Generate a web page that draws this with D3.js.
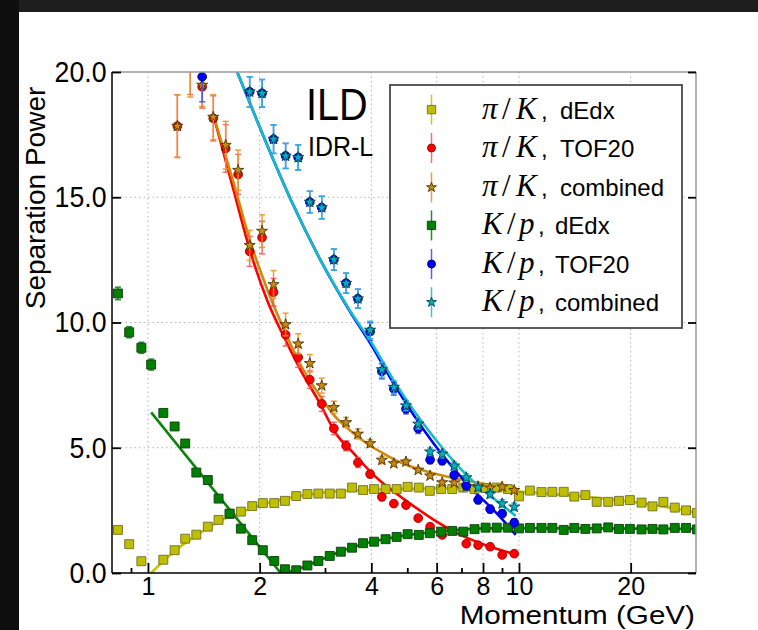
<!DOCTYPE html>
<html><head><meta charset="utf-8">
<script src="https://cdn.jsdelivr.net/npm/d3@7"></script>
<style>body{margin:0;background:#fff} svg{display:block}</style>
</head><body>
<svg id="c" width="758" height="630"></svg>
<script>
// ---------------- DATA ----------------
const pDedx = [0.83,0.89,0.96,1.02,1.10,1.18,1.26,1.35,1.45,1.55,1.66,1.78,1.91,2.04,2.19,2.34,2.51,2.69,2.88,3.09,3.31,3.55,3.80,4.07,4.37,4.68,5.01,5.37,5.75,6.17,6.61,7.08,7.59,8.13,8.71,9.33,10.0,10.7,11.5,12.3,13.2,14.1,15.1,16.2,17.4,18.6,19.9,21.4,22.9,24.5,26.3,28.2,30.2];
const piK_dEdx = [1.72,1.15,0.47,null,0.53,0.91,1.37,1.53,1.85,2.12,2.36,2.45,2.67,2.79,2.79,2.88,3.07,3.15,3.17,3.17,3.17,3.41,3.31,3.35,3.35,3.35,3.44,3.41,3.28,3.35,3.35,3.41,3.35,3.39,3.41,3.35,3.06,3.29,3.23,3.24,3.24,3.05,3.11,2.84,2.84,2.88,2.91,2.81,2.66,2.84,2.61,2.50,2.40];
const Kp_dEdx = [11.16,9.61,8.99,8.32,6.39,5.85,5.17,4.01,3.71,2.97,2.37,1.77,1.31,0.91,0.48,0.15,0.11,0.30,0.48,0.68,0.85,1.01,1.19,1.25,1.35,1.44,1.55,1.52,1.59,1.65,1.68,1.65,1.75,1.81,1.81,1.81,1.78,1.80,1.80,1.80,1.72,1.80,1.76,1.78,1.82,1.76,1.76,1.74,1.76,1.74,1.80,1.80,1.74];
const Kp_dEdxErr = [0.25,0.22,0.22,0.22];

const pTof = [1.20,1.30,1.40,1.50,1.62,1.75,1.88,2.03,2.18,2.35,2.54,2.73,2.94,3.17,3.42,3.68,3.97,4.27,4.60,4.96,5.35,5.76,6.21,6.69,7.21,7.76,8.36,9.01,9.71];
const piK_tof = [17.84,20.7,19.41,18.15,16.95,15.91,12.84,13.39,11.21,9.51,8.61,7.72,6.75,5.77,5.08,4.41,3.95,3.04,2.77,2.71,2.19,1.85,1.52,null,1.17,1.11,1.05,0.72,0.77];
const piK_tofErr = [1.25,1.6,0.85,0.9,0.95,0.8,0.6,0.65,0.55,0.45,0.4,0.35,0.3,0.25,0.2,0.2,0.15,0.15,0.1,0.1,0.1,0.1,0.1,0.1,0.1,0.1,0.1,0.1,0.1];
const piK_comb = [17.84,20.6,19.48,18.2,17.08,16.08,13.08,13.65,11.52,9.92,9.15,8.37,7.48,6.61,6.01,5.55,5.17,4.51,4.37,4.44,4.11,3.88,3.61,3.60,3.45,3.45,3.40,3.44,3.30];
const piK_combErr = [1.25,1.6,0.85,0.9,0.95,0.8,0.6,0.65,0.55,0.45,0.4,0.35,0.3,0.25,0.2,0.2,0.15,0.15,0.1,0.1,0.1,0.1,0.1,0.1,0.1,0.1,0.1,0.1,0.1];
const Kp_tof = [null,null,19.81,null,null,null,19.21,19.15,17.32,16.65,16.59,14.81,14.59,12.51,11.57,10.95,9.64,8.05,7.35,6.55,5.77,4.52,4.48,3.91,3.48,2.92,2.55,2.37,2.01];
const Kp_tofErr = [0,0,1.0,0,0,0,0.6,0.55,0.57,0.5,0.5,0.43,0.45,0.42,0.4,0.38,0.35,0.3,0.25,0.2,0.2,0.15,0.15,0.15,0.15,0.15,0.15,0.15,0.15];
const Kp_comb = [null,null,null,null,null,null,19.21,19.15,17.32,16.65,16.59,14.81,14.59,12.51,11.57,10.95,9.70,8.12,7.42,6.68,5.95,4.84,4.75,4.28,3.81,3.41,3.15,2.77,2.64];
const Kp_combErr = [0,0,0,0,0,0,0.6,0.55,0.57,0.5,0.5,0.43,0.45,0.42,0.4,0.38,0.35,0.3,0.25,0.2,0.2,0.15,0.15,0.15,0.15,0.15,0.15,0.15,0.15];

// fitted curves
const fitYellowP = [1.02,1.18,1.35,1.55,1.8,2.0,2.5,3.0,4.0,6.0,8.0,10,15,20,30];
const fitYellowV = [0.0,0.88,1.5,2.05,2.45,2.7,3.05,3.22,3.32,3.38,3.35,3.25,3.05,2.85,2.42];
const fitGreenP = [1.02,2.28,2.5,2.69,3.0,3.25,3.5,4.0,4.5,5.0,6.0,7.0,8.0,10,15,20,30];
const fitGreenV = [6.41,0.0,0.12,0.3,0.6,0.82,1.0,1.25,1.4,1.52,1.65,1.73,1.78,1.79,1.78,1.77,1.76];
const fitRedP = [1.5,1.7,1.89,2.1,2.33,2.6,2.9,3.2,3.6,4.0,4.5,5.0,6.0,7.0,8.0,9.0,9.75];
const fitRedV = [18.3,15.3,12.8,10.85,9.4,8.0,6.8,5.6,4.75,4.0,3.35,2.85,2.05,1.5,1.15,0.9,0.75];
const fitOrangeP = [1.5,1.7,1.89,2.1,2.33,2.58,2.9,3.17,3.5,3.89,4.4,4.8,5.9,7.26,8.93,9.8];
const fitOrangeV = [18.3,15.6,13.2,11.3,9.7,8.3,7.1,6.3,5.7,5.17,4.7,4.41,3.97,3.68,3.44,3.35];
const fitBlueP = [1.74,2.0,2.43,2.92,3.5,4.0,4.6,5.9,7.26,8.93,9.8];
const fitBlueV = [20.0,17.8,14.88,12.48,10.45,9.1,7.55,5.15,3.55,2.21,1.52];
const fitCyanP = [1.74,2.0,2.43,2.92,3.5,4.0,4.6,5.9,7.26,8.93,9.8];
const fitCyanV = [20.0,17.8,14.88,12.48,10.48,9.2,7.68,5.41,3.88,2.75,2.28];

const xTickVals = [1,2,4,6,8,10,20];
const xTickLabels = ['1','2','4','6','8','10','20'];
const xMinorVals = [0.9,3,5,7,9];
const yTickVals = [0,5,10,15,20];
const yTickLabels = ['0.0','5.0','10.0','15.0','20.0'];

const legendMath = [['π','K'],['π','K'],['π','K'],['K','p'],['K','p'],['K','p']];
const legendText = ['dEdx','TOF20','combined','dEdx','TOF20','combined'];

// ---------------- CHART ----------------
const W = 758, H = 630;
const svg = d3.select('#c');
svg.append('rect').attr('width', W).attr('height', H).attr('fill', '#fff');
svg.append('rect').attr('x', 0).attr('y', 0).attr('width', W).attr('height', 12).attr('fill', '#1e1e1e');
svg.append('rect').attr('x', 0).attr('y', 0).attr('width', 19).attr('height', H).attr('fill', '#0e0e0e');

const L = 112, R = 696, T = 72, B = 573;
const x = d3.scaleLog().domain([0.8, 30]).range([L, R]);
const y = d3.scaleLinear().domain([0, 20]).range([B, T]);

svg.append('defs').append('clipPath').attr('id', 'clip')
  .append('rect').attr('x', L).attr('y', T).attr('width', R - L).attr('height', B - T);

const SANS = "'Liberation Sans', Arial, sans-serif";
const SERIF = "'Liberation Serif', 'Times New Roman', serif";

// grid
const grid = svg.append('g').attr('stroke', '#b5b5b5').attr('stroke-width', 1).attr('stroke-dasharray', '1.5,3');
xTickVals.forEach(v => grid.append('line').attr('x1', x(v)).attr('x2', x(v)).attr('y1', T).attr('y2', B));
[5, 10, 15].forEach(v => grid.append('line').attr('x1', L).attr('x2', R).attr('y1', y(v)).attr('y2', y(v)));

// plot content
const plot = svg.append('g').attr('clip-path', 'url(#clip)');

function fitLine(P, V, color, curve) {
  const line = d3.line().x(d => x(d[0])).y(d => y(d[1])).curve(curve || d3.curveMonotoneX);
  plot.append('path').datum(P.map((p, i) => [p, V[i]]))
    .attr('d', line).attr('fill', 'none').attr('stroke', color).attr('stroke-width', 2.6)
    .attr('stroke-linejoin', 'round');
}
fitLine(fitYellowP, fitYellowV, '#c4c400');
fitLine(fitGreenP, fitGreenV, '#0a860a', d3.curveLinear);
fitLine(fitRedP, fitRedV, '#ff0000');
fitLine(fitOrangeP, fitOrangeV, '#cf8a0c');
fitLine(fitBlueP, fitBlueV, '#0000ff');
fitLine(fitCyanP, fitCyanV, '#12bccc');

function series(P, V, E, opt) {
  const g = plot.append('g');
  const pts = P.map((p, i) => ({ p, v: V[i], e: E ? (E[i] || 0) : 0 })).filter(d => d.v != null);
  const eb = g.append('g').attr('stroke', opt.eb).attr('stroke-width', 1.5).attr('stroke-opacity', opt.ebo || 1);
  pts.filter(d => d.e > 0).forEach(d => {
    const cx = x(d.p), y1 = y(d.v - d.e), y2 = y(d.v + d.e);
    eb.append('line').attr('x1', cx).attr('x2', cx).attr('y1', y1).attr('y2', y2);
    eb.append('line').attr('x1', cx - 3).attr('x2', cx + 3).attr('y1', y1).attr('y2', y1);
    eb.append('line').attr('x1', cx - 3).attr('x2', cx + 3).attr('y1', y2).attr('y2', y2);
  });
  g.selectAll(null).data(pts).join('path')
    .attr('transform', d => `translate(${x(d.p)},${y(d.v)})`)
    .attr('d', d3.symbol(opt.type, opt.size)())
    .attr('fill', opt.fill).attr('stroke', opt.stroke).attr('stroke-width', 0.9);
}

const styles = [
  { type: d3.symbolSquare, size: 80, fill: '#bfbf00', stroke: '#6e6e2a', eb: '#c8c820' },
  { type: d3.symbolCircle, size: 60, fill: '#ff0000', stroke: '#a00000', eb: '#ff5050', ebo: 0.85 },
  { type: d3.symbolStar, size: 38, fill: '#c98a12', stroke: '#4d3300', eb: '#e8962c', ebo: 0.9 },
  { type: d3.symbolSquare, size: 80, fill: '#008000', stroke: '#0d3d0d', eb: '#2a8a2a' },
  { type: d3.symbolCircle, size: 60, fill: '#0000ff', stroke: '#000070', eb: '#3346ff', ebo: 0.85 },
  { type: d3.symbolStar, size: 38, fill: '#00b2ba', stroke: '#00405a', eb: '#2ab8d8', ebo: 0.9 }
];

series(pDedx, piK_dEdx, null, styles[0]);
series(pTof, piK_tof, piK_tofErr, styles[1]);
series(pTof, piK_comb, piK_combErr, styles[2]);
series(pDedx, Kp_dEdx, Kp_dEdxErr, styles[3]);
series(pTof, Kp_tof, Kp_tofErr, styles[4]);
series(pTof, Kp_comb, Kp_combErr, styles[5]);

// spines
svg.append('line').attr('x1', L).attr('x2', R).attr('y1', T).attr('y2', T).attr('stroke', '#9a9a9a').attr('stroke-width', 1.5);
svg.append('line').attr('x1', R).attr('x2', R).attr('y1', T).attr('y2', B).attr('stroke', '#9a9a9a').attr('stroke-width', 1.5);
svg.append('line').attr('x1', L).attr('x2', L).attr('y1', T).attr('y2', B).attr('stroke', '#000').attr('stroke-width', 1.5);
svg.append('line').attr('x1', L).attr('x2', R).attr('y1', B).attr('y2', B).attr('stroke', '#000').attr('stroke-width', 1.5);

// axes
function styleAxis(size, sx) {
  return g => {
    g.select('.domain').remove();
    g.selectAll('.tick line').attr('stroke', '#000').attr('stroke-width', 1.8);
    g.selectAll('.tick text').attr('fill', '#000').style('font-family', SANS).style('font-size', size + 'px')
      .attr('transform', `scale(${sx},1)`);
  };
}
const xAxis = d3.axisBottom(x).tickValues(xTickVals).tickFormat((d, i) => xTickLabels[i])
  .tickSizeInner(-10).tickSizeOuter(0).tickPadding(4);
svg.append('g').attr('transform', `translate(0,${B})`).call(xAxis).call(styleAxis(25, 1.0));
const xMinor = d3.axisBottom(x).tickValues(xMinorVals).tickFormat('').tickSizeInner(-5).tickSizeOuter(0);
svg.append('g').attr('transform', `translate(0,${B})`).call(xMinor).call(styleAxis(25, 1.0));

const yAxis = d3.axisLeft(y).tickValues(yTickVals).tickFormat((d, i) => yTickLabels[i])
  .tickSizeInner(-9).tickSizeOuter(0).tickPadding(6);
svg.append('g').attr('transform', `translate(${L},0)`).call(yAxis).call(styleAxis(29, 0.92));
const yRight = d3.axisRight(y).tickValues(yTickVals).tickFormat('').tickSizeInner(-8).tickSizeOuter(0);
svg.append('g').attr('transform', `translate(${R},0)`).call(yRight).call(styleAxis(29, 0.92));

// axis titles
svg.append('text').attr('transform', 'translate(45,198) rotate(-90)').attr('text-anchor', 'middle')
  .style('font-family', SANS).style('font-size', '28px').attr('fill', '#000').text('Separation Power');
svg.append('text').attr('transform', 'translate(695,624) scale(1.14,1)').attr('text-anchor', 'end')
  .style('font-family', SANS).style('font-size', '26px').attr('fill', '#000').text('Momentum (GeV)');

// ILD labels
svg.append('text').attr('transform', 'translate(306,120) scale(0.9,1)')
  .style('font-family', SANS).style('font-size', '44px').attr('fill', '#000').text('ILD');
svg.append('text').attr('transform', 'translate(308,156) scale(0.89,1)')
  .style('font-family', SANS).style('font-size', '28px').attr('fill', '#000').text('IDR-L');

// legend
const lg = svg.append('g');
lg.append('rect').attr('x', 390).attr('y', 85).attr('width', 292).attr('height', 243)
  .attr('fill', '#fff').attr('stroke', '#4a4a4a').attr('stroke-width', 1.8);
const rowY = [109.6, 148, 187.4, 225.4, 264, 302.2];
const legStyles = [
  { ...styles[0], size: 70 }, { ...styles[1], size: 50 }, { ...styles[2], size: 30 },
  { ...styles[3], size: 70 }, { ...styles[4], size: 50 }, { ...styles[5], size: 30 }
];
rowY.forEach((ry, i) => {
  const s = legStyles[i];
  lg.append('line').attr('x1', 431.5).attr('x2', 431.5).attr('y1', ry - 15).attr('y2', ry + 15)
    .attr('stroke', s.eb).attr('stroke-width', 1.5).attr('stroke-opacity', s.ebo || 1);
  lg.append('path').attr('transform', `translate(431.5,${ry})`).attr('d', d3.symbol(s.type, s.size)())
    .attr('fill', s.fill).attr('stroke', s.stroke).attr('stroke-width', 0.9);
  const isPi = legendMath[i][0] === 'π';
  const t = lg.append('text').attr('y', ry + 9).attr('fill', '#000');
  t.append('tspan').attr('x', 482).style('font-family', SERIF).style('font-style', 'italic').style('font-size', '31px').text(legendMath[i][0]);
  t.append('tspan').attr('x', isPi ? 502 : 507).style('font-family', SERIF).style('font-size', '31px').text('/');
  t.append('tspan').attr('x', isPi ? 516 : 519).style('font-family', SERIF).style('font-style', 'italic').style('font-size', '31px').text(legendMath[i][1]);
  t.append('tspan').attr('x', isPi ? 541 : 538).style('font-family', SANS).style('font-size', '24px').text(',');
  t.append('tspan').attr('x', isPi ? 560 : 555).style('font-family', SANS).style('font-size', '24px').text(legendText[i]);
});
</script>
</body></html>
